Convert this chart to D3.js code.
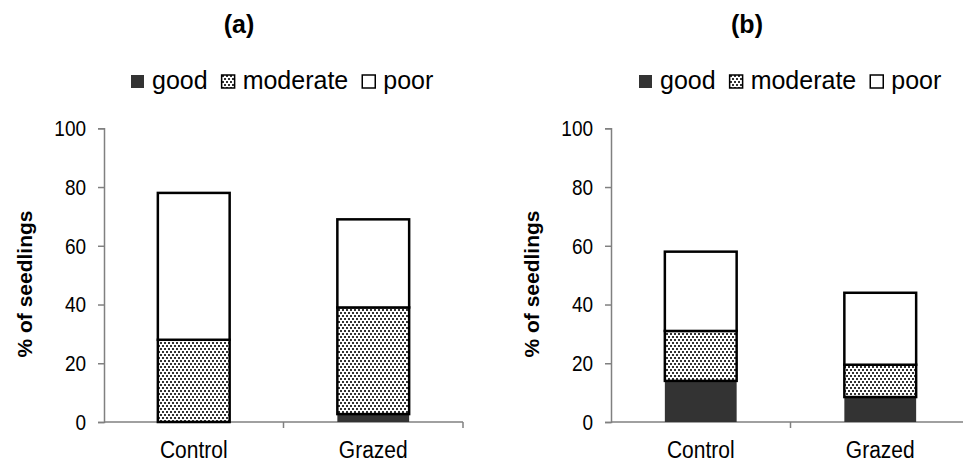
<!DOCTYPE html>
<html>
<head>
<meta charset="utf-8">
<script src="https://cdn.jsdelivr.net/npm/d3@7/dist/d3.min.js"></script>
<style>
  body { margin: 0; background: #fff; }
  text { font-family: "Liberation Sans", Arial, sans-serif; fill: #000; }
</style>
</head>
<body>
<div id="chart"></div>
<script>
// data
var categories = ["Control", "Grazed"];
var classes = ["good", "moderate", "poor"];
var panelA = { good: [0, 2.7], moderate: [28, 36.3], poor: [50, 30] };
var panelB = { good: [14, 8.5], moderate: [17, 11], poor: [27, 24.5] };
var yTicks = [0, 20, 40, 60, 80, 100];
var panelTitles = ["(a)", "(b)"];

var width = 963, height = 464;

var svg = d3.select("#chart").append("svg")
    .attr("width", width)
    .attr("height", height);

// dotted fill for "moderate"
var pat = svg.append("defs").append("pattern")
    .attr("id", "dots")
    .attr("patternUnits", "userSpaceOnUse")
    .attr("width", 4).attr("height", 6);
pat.append("rect").attr("width", 4).attr("height", 6).attr("fill", "#fff");
pat.append("rect").attr("x", 0).attr("y", 0).attr("width", 2).attr("height", 2).attr("fill", "#333");
pat.append("rect").attr("x", 2).attr("y", 3).attr("width", 2).attr("height", 2).attr("fill", "#333");

var fills = { good: "#333333", moderate: "url(#dots)", poor: "#ffffff" };

function toRows(d) {
    return categories.map(function(c, i) {
        var r = { cat: c };
        classes.forEach(function(k) { r[k] = d[k][i]; });
        return r;
    });
}

function drawPanel(data, left, title, titleX, legendX) {
    var g = svg.append("g");

    var x = d3.scaleBand()
        .domain(categories)
        .range([left, left + 359])
        .paddingInner(0.6)
        .paddingOuter(0.3);

    var y = d3.scaleLinear()
        .domain([0, 100])
        .range([422, 128.3]);

    var stacked = d3.stack().keys(classes)(toRows(data));

    // y axis
    var yAxis = g.append("g")
        .attr("transform", "translate(" + left + ",0)")
        .call(d3.axisLeft(y).tickValues(yTicks).tickSize(6).tickPadding(12));
    yAxis.select(".domain").attr("stroke", "#808080").attr("stroke-width", 1.5);
    yAxis.selectAll(".tick line").attr("stroke", "#808080").attr("stroke-width", 1.5);
    // the source font is a bit taller than Arial, stretch it around the tick
    yAxis.selectAll(".tick text")
        .style("font-family", "Liberation Sans, Arial, sans-serif")
        .style("font-size", "19px")
        .attr("fill", "#000")
        .attr("transform", "scale(1,1.2)");

    // x axis line + ticks between categories
    var step = x.step();
    g.append("line")
        .attr("x1", left).attr("x2", left + 359)
        .attr("y1", y(0)).attr("y2", y(0))
        .attr("stroke", "#808080").attr("stroke-width", 1.5);
    [left + step, left + 2 * step].forEach(function(t) {
        g.append("line")
            .attr("x1", t).attr("x2", t)
            .attr("y1", y(0)).attr("y2", y(0) + 6)
            .attr("stroke", "#808080").attr("stroke-width", 1.5);
    });

    g.selectAll(".cat")
        .data(categories)
        .join("text")
        .attr("transform", function(d) {
            return "translate(" + (x(d) + x.bandwidth() / 2) + ",458) scale(1,1.12)";
        })
        .attr("text-anchor", "middle")
        .style("font-size", "21px")
        .text(function(d) { return d; });

    // bars
    stacked.forEach(function(layer) {
        var k = layer.key;
        g.selectAll(".seg-" + k)
            .data(layer)
            .join("rect")
            .attr("x", function(d) { return x(d.data.cat); })
            .attr("width", x.bandwidth())
            .attr("y", function(d) { return y(d[1]); })
            .attr("height", function(d) { return y(d[0]) - y(d[1]); })
            .attr("fill", fills[k])
            .attr("stroke", k == "good" ? "none" : "#000")
            .attr("stroke-width", 2.5);
    });

    // y label
    g.append("text")
        .attr("transform", "translate(" + (left - 72) + ",284) rotate(-90)")
        .attr("text-anchor", "middle")
        .style("font-size", "21px")
        .style("font-weight", "bold")
        .text("% of seedlings");

    // title
    g.append("text")
        .attr("x", titleX).attr("y", 33)
        .attr("text-anchor", "middle")
        .style("font-size", "25px")
        .style("font-weight", "bold")
        .text(title);

    // legend
    var lx = legendX;
    classes.forEach(function(k) {
        g.append("rect")
            .attr("x", lx).attr("y", 75)
            .attr("width", 13).attr("height", 13)
            .attr("fill", fills[k])
            .attr("stroke", k == "good" ? "none" : "#000")
            .attr("stroke-width", 1.5);
        var t = g.append("text")
            .attr("x", lx + 21).attr("y", 89)
            .style("font-size", "25px")
            .text(k);
        lx += 21 + t.node().getComputedTextLength() + 14;
    });
}

drawPanel(panelA, 104, panelTitles[0], 239, 131);
drawPanel(panelB, 611, panelTitles[1], 747, 639);
</script>
</body>
</html>
